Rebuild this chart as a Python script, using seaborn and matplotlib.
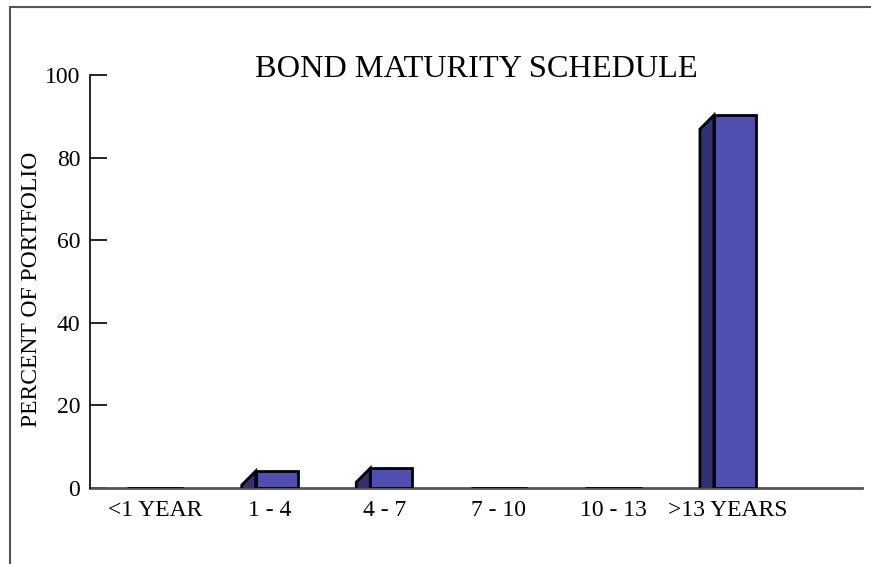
import matplotlib
matplotlib.use("Agg")
import matplotlib.pyplot as plt
import seaborn as sns
import pandas as pd
from matplotlib.patches import Polygon
from matplotlib.lines import Line2D

categories = ["<1 YEAR", "1 - 4", "4 - 7", "7 - 10", "10 - 13", ">13 YEARS"]
percent = [0.0, 4.1, 4.8, 0.0, 0.0, 90.3]

FRONT = "#4f4fb0"
SIDE = "#323272"

sns.set_theme(style="white")
plt.rcParams["font.family"] = ["Liberation Serif", "DejaVu Serif"]
plt.rcParams["text.color"] = "black"
plt.rcParams["axes.labelcolor"] = "black"
plt.rcParams["xtick.color"] = "black"
plt.rcParams["ytick.color"] = "black"

df = pd.DataFrame({"maturity": categories, "pct": percent})

fig = plt.figure(figsize=(8.71, 5.64), dpi=100)
ax = fig.add_axes([0.1033, 0.1348, 0.8864, 0.7322])

sns.barplot(data=df, x="maturity", y="pct", color=FRONT, saturation=1,
            width=0.49, edgecolor="black", linewidth=2, ax=ax)

# fake 3D: shift the front face right and add a dark side face on the left
dx = 0.122   # depth in x (data units)
dy = 3.4     # depth in y (data units)
for p in ax.patches[:len(percent)]:
    p.set_zorder(3)
    h = p.get_height()
    if h <= 0:
        continue
    x0 = p.get_x()
    w = p.get_width()
    p.set_x(x0 + dx)
    p.set_width(w - dx)
    side = Polygon([(x0 + dx, 0), (x0 + dx, h), (x0, h - dy), (x0, -dy)],
                   closed=True, facecolor=SIDE, edgecolor="black",
                   linewidth=2, zorder=2.9)
    ax.add_patch(side)

ax.set_xlim(-0.57, 6.17)
ax.set_ylim(0, 100)
ax.set_yticks([0, 20, 40, 60, 80, 100])
ax.set_xlabel("")
ax.set_ylabel("PERCENT OF PORTFOLIO", fontsize=17)
ax.yaxis.set_label_coords(-0.062, 0.48)
ax.set_title("BOND MATURITY SCHEDULE", fontsize=23.3, pad=-1.5)

ax.tick_params(axis="y", direction="in", length=12, width=1.2, left=True,
               labelsize=17, pad=7)
ax.tick_params(axis="x", length=0, labelsize=17, pad=9)

for s in ["top", "right"]:
    ax.spines[s].set_visible(False)
ax.spines["left"].set_color("black")
ax.spines["left"].set_linewidth(1.2)
ax.spines["bottom"].set_color("#555555")
ax.spines["bottom"].set_linewidth(2)
ax.spines["bottom"].set_zorder(1)

# outer frame lines (top and left)
fig.add_artist(Line2D([10 / 871, 1], [1 - 7 / 564, 1 - 7 / 564],
                      transform=fig.transFigure, color="#555555", linewidth=1.5))
fig.add_artist(Line2D([10 / 871, 10 / 871], [0, 1 - 7 / 564],
                      transform=fig.transFigure, color="#555555", linewidth=1.5))

fig.savefig("out.png", dpi=100)
